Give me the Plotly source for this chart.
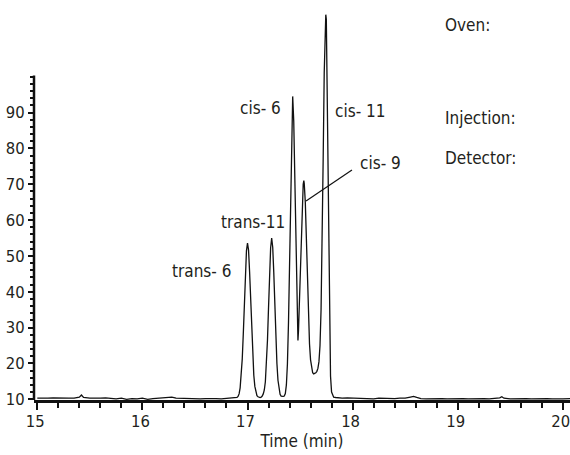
import plotly.graph_objects as go

# ---- data ----
TIME = [
    15.00, 15.05, 15.10, 15.15, 15.20, 15.25, 15.30, 15.35, 15.40, 15.42, 15.44, 15.50,
    15.55, 15.60, 15.65, 15.70, 15.75, 15.80, 15.85, 15.90, 15.95, 16.00, 16.05, 16.10,
    16.15, 16.20, 16.25, 16.28, 16.32, 16.40, 16.45, 16.50, 16.55, 16.60, 16.65, 16.70,
    16.75, 16.80, 16.85, 16.88,
    16.90, 16.91, 16.92, 16.93, 16.94, 16.95, 16.96, 16.97, 16.98, 16.99,
    17.00, 17.01, 17.02, 17.03, 17.04, 17.05, 17.06, 17.07, 17.08, 17.09,
    17.10, 17.11, 17.12, 17.13, 17.14, 17.15, 17.16, 17.17, 17.18, 17.19,
    17.20, 17.21, 17.22, 17.23, 17.24, 17.25, 17.26, 17.27, 17.28, 17.29,
    17.30, 17.31, 17.32, 17.33, 17.34, 17.35, 17.36, 17.37, 17.38, 17.39,
    17.40, 17.41, 17.42, 17.43, 17.44, 17.45, 17.46, 17.47, 17.475, 17.48,
    17.485, 17.49, 17.50, 17.51, 17.52, 17.53, 17.536, 17.54, 17.55, 17.56,
    17.57, 17.58, 17.59, 17.60, 17.61, 17.62, 17.63, 17.64, 17.65, 17.66,
    17.67, 17.68, 17.69, 17.70, 17.71, 17.72, 17.73, 17.74, 17.745, 17.75,
    17.76, 17.77, 17.78, 17.79, 17.80, 17.81, 17.82, 17.84, 17.86,
    17.90, 17.95, 18.00, 18.05, 18.10, 18.15, 18.20, 18.25, 18.30, 18.35,
    18.40, 18.45, 18.50, 18.55, 18.58, 18.61, 18.65, 18.70, 18.75, 18.80,
    18.85, 18.90, 18.95, 19.00, 19.05, 19.10, 19.15, 19.20, 19.25, 19.30,
    19.35, 19.40, 19.42, 19.44, 19.50, 19.55, 19.60, 19.65, 19.70, 19.75,
    19.80, 19.85, 19.90, 19.95, 20.00, 20.07,
]
SIGNAL = [
    10.3, 10.2, 10.3, 10.4, 10.3, 10.2, 10.3, 10.3, 10.6, 11.2, 10.5, 10.3,
    10.2, 10.3, 10.4, 10.2, 10.1, 10.3, 10.0, 10.2, 10.1, 10.3, 10.0, 10.2,
    10.3, 10.4, 10.7, 10.6, 10.3, 10.2, 10.1, 10.2, 10.1, 10.2, 10.3, 10.2,
    10.1, 10.2, 10.3, 10.3,
    10.5, 10.8, 11.5, 13.2, 16.3, 21.2, 28.2, 36.7, 45.1, 51.4,
    53.6, 51.6, 45.5, 37.2, 28.8, 21.7, 16.7, 13.6, 11.8, 11.0,
    10.7, 10.5, 10.5, 10.6, 10.9, 11.5, 12.6, 14.9, 19.4, 26.4,
    35.5, 45.0, 52.2, 55.0, 52.4, 45.4, 36.0, 27.0, 20.0, 15.3,
    12.7, 11.4, 10.9, 10.8, 10.8, 10.9, 11.6, 14.0, 19.9, 31.3,
    48.9, 69.8, 87.5, 94.5, 87.6, 70.0, 49.4, 34.0, 28.5, 26.4,
    29.0, 34.0, 44.0, 55.5, 64.5, 70.0, 71.0, 70.2, 65.0, 55.0,
    43.5, 33.0, 25.5, 21.0, 18.5, 17.4, 17.1, 17.2, 17.4, 17.8,
    18.6, 20.5, 25.0, 35.0, 52.5, 77.0, 101.0, 115.0, 117.3, 116.0,
    93.0, 59.0, 31.0, 16.5, 12.0, 10.9, 10.6, 10.5, 10.4,
    10.3, 10.4, 10.3, 10.2, 10.3, 10.2, 10.1, 10.3, 10.2, 10.1,
    10.2, 10.3, 10.3, 10.6, 10.8, 10.5, 10.2, 10.1, 10.2, 10.1,
    10.2, 10.1, 10.2, 10.1, 10.2, 10.1, 10.2, 10.1, 10.2, 10.1,
    10.2, 10.4, 10.7, 10.3, 10.1, 10.2, 10.1, 10.2, 10.1, 10.2,
    10.1, 10.2, 10.1, 10.2, 10.1, 10.2,
]

X_TICKS = [15, 16, 17, 18, 19, 20]
Y_TICKS = [10, 20, 30, 40, 50, 60, 70, 80, 90]
Y_MINOR = [12, 14, 16, 18, 22, 24, 26, 28, 32, 34, 36, 38, 42, 44, 46, 48,
           52, 54, 56, 58, 62, 64, 66, 68, 72, 74, 76, 78, 82, 84, 86, 88,
           92, 94, 96, 98, 100]

PEAK_LABELS = ["trans- 6", "trans-11", "cis- 6", "cis- 11", "cis- 9"]
PEAK_LABEL_X = [16.862, 17.056, 17.341, 17.811, 18.049]
PEAK_LABEL_Y = [45.8, 59.5, 91.4, 90.5, 75.8]
PEAK_LABEL_ANCHOR = ["right", "center", "right", "left", "left"]

SIDE_TEXT = ["Oven:", "Injection:", "Detector:"]
SIDE_TEXT_Y = [0.949, 0.714, 0.613]

FONT = "Liberation Sans Narrow, DejaVu Sans Condensed, Roboto Condensed, Arial Narrow, Liberation Sans, sans-serif"
TXT = "#231f20"

fig = go.Figure()
fig.add_trace(go.Scatter(x=TIME, y=SIGNAL, mode="lines",
                         line=dict(color="#111111", width=1.3),
                         hoverinfo="skip", showlegend=False))

annotations = []
for lab, x, y, anc in zip(PEAK_LABELS, PEAK_LABEL_X, PEAK_LABEL_Y, PEAK_LABEL_ANCHOR):
    annotations.append(dict(x=x, y=y, xref="x", yref="y", text=lab, showarrow=False,
                            xanchor=anc, yanchor="middle",
                            font=dict(family=FONT, size=17, color=TXT)))
for lab, y in zip(SIDE_TEXT, SIDE_TEXT_Y):
    annotations.append(dict(x=0.7625, y=y, xref="paper", yref="paper", text=lab,
                            showarrow=False, xanchor="left", yanchor="middle",
                            font=dict(family=FONT, size=17, color=TXT)))

shapes = [
    # y-axis line drawn only up to 100
    dict(type="line", xref="paper", yref="y", x0=0, x1=0, y0=9.8, y1=100.3,
         line=dict(color="#111111", width=2.5)),
    # leader line for cis-9
    dict(type="line", xref="x", yref="y", x0=17.994, y0=73.96, x1=17.557, y1=65.3,
         line=dict(color="#111111", width=1.2)),
]

fig.update_layout(
    width=570, height=455,
    margin=dict(l=34, r=0, t=5, b=55, autoexpand=False),
    paper_bgcolor="white", plot_bgcolor="white",
    font=dict(family=FONT, size=17, color=TXT),
    annotations=annotations,
    shapes=shapes,
    xaxis=dict(
        range=[14.9686, 20.0686], automargin=False,
        tickvals=X_TICKS, ticktext=[str(v) for v in X_TICKS],
        ticks="outside", ticklen=7, tickwidth=2, tickcolor="#111111",
        ticklabelstandoff=-2, ticklabelshift=-2, ticklabeloverflow="allow",
        minor=dict(dtick=0.2, tick0=15, ticks="outside", ticklen=5, tickwidth=2,
                   tickcolor="#111111", showgrid=False),
        showline=True, linecolor="#111111", linewidth=2.5,
        showgrid=False, zeroline=False,
        tickfont=dict(family=FONT, size=16.5, color=TXT),
        title=dict(text="Time (min)", font=dict(family=FONT, size=17, color=TXT), standoff=0),
    ),
    yaxis=dict(
        range=[9.8, 120.0], automargin=False,
        tickvals=Y_TICKS, ticktext=[str(v) for v in Y_TICKS],
        ticks="outside", ticklen=5, tickwidth=2, tickcolor="#111111",
        minor=dict(tickvals=Y_MINOR, ticks="outside", ticklen=3, tickwidth=2,
                   tickcolor="#111111", showgrid=False),
        showline=False, showgrid=False, zeroline=False,
        tickfont=dict(family=FONT, size=16.5, color=TXT),
    ),
)

# remove the browser's default 8 px page margin so the figure fills the window
fig.write_html("out.html", config={"displayModeBar": False, "staticPlot": True},
               post_script="document.body.style.margin='0';")
